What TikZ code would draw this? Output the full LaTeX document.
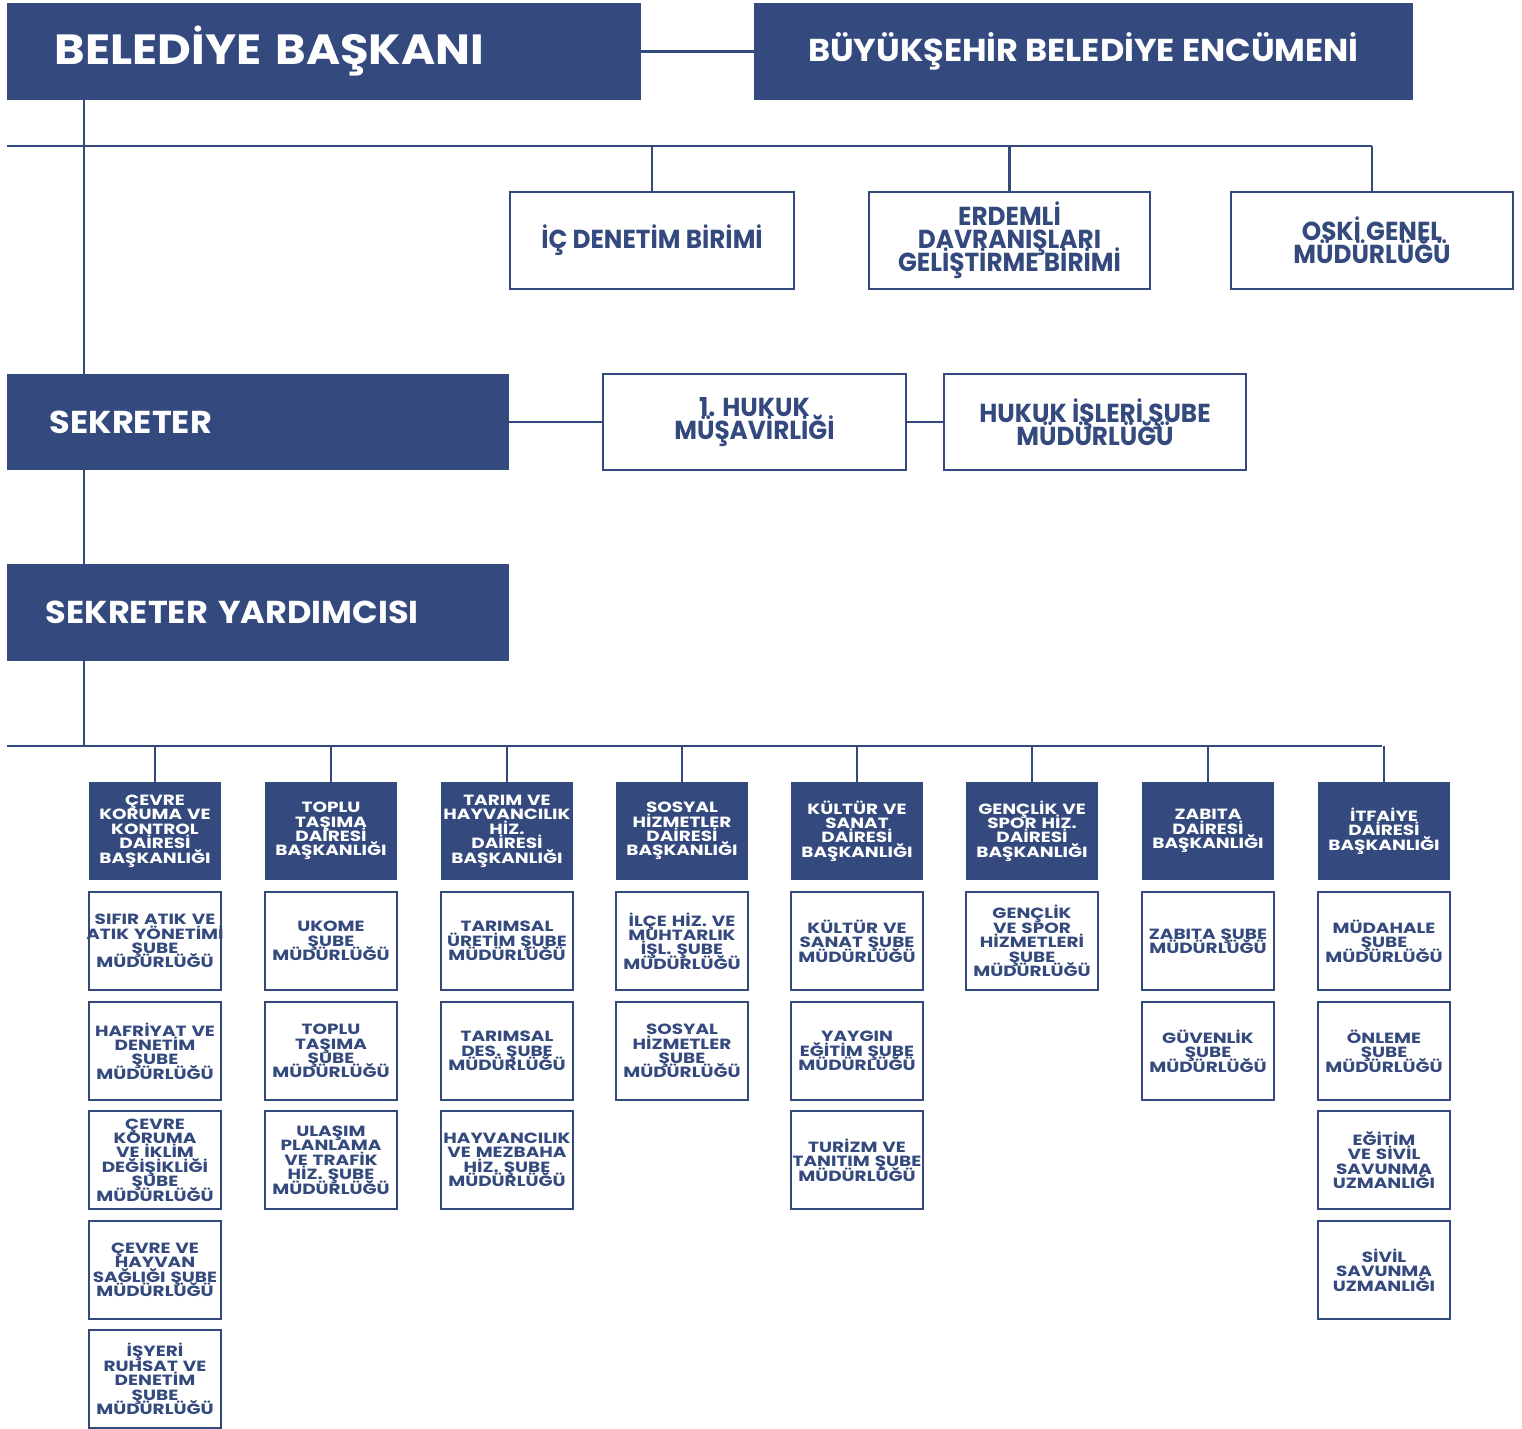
\documentclass[tikz,border=0pt]{standalone}
\usepackage{fontspec}
\setmainfont{Poppins}
\newfontfamily\popw[FakeStretch=1.25]{Poppins}
\newfontfamily\popn[FakeStretch=0.95]{Poppins}
\newfontfamily\popt[FakeStretch=1.1]{Poppins}
\newfontfamily\pops[FakeStretch=1.06]{Poppins}
\definecolor{navy}{RGB}{52,74,126}
\newcommand\tightls{\lineskiplimit=-100pt\lineskip=0pt}
\newcommand\wideline[1]{\makebox[1.32cm][c]{#1}}
\begin{document}
\begin{tikzpicture}[x=0.01cm,y=-0.01cm,
  conn/.style={draw=navy,line width=0.75pt},
  darkbox/.style={fill=navy,draw=none,text=white,inner sep=0pt,outer sep=0pt},
  whitebox/.style={fill=white,draw=navy,line width=0.7pt,text=navy,inner sep=0pt,outer sep=0pt},
  bigtitle/.style={darkbox,minimum width=6.34cm,minimum height=0.97cm,font=\popt\bfseries\fontsize{12}{13}\selectfont},
  midtitle/.style={darkbox,font=\pops\bfseries\fontsize{9}{10}\selectfont},
  toptext/.style={whitebox,minimum height=0.97cm,align=center,font=\popn\bfseries\fontsize{7.4}{6.5}\selectfont\tightls},
  colhead/.style={darkbox,minimum width=1.32cm,text width=1.32cm,minimum height=0.98cm,align=center,font=\popw\bfseries\fontsize{4.2}{4.1}\selectfont\tightls},
  colsub/.style={whitebox,minimum width=1.32cm,text width=1.32cm,minimum height=0.98cm,align=center,font=\popw\bfseries\fontsize{4.2}{4.1}\selectfont\tightls},
]
\useasboundingbox (0,0) rectangle (1522,1428);
% top row
\node[bigtitle,text width=5.38cm,align=left,inner xsep=0.48cm] (bb) at (324,51.5) {BELEDİYE BAŞKANI};
\node[midtitle,minimum width=6.59cm,minimum height=0.97cm] (enc) at (1083.5,51.5) {BÜYÜKŞEHİR BELEDİYE ENCÜMENİ};
\draw[conn] (bb.east) -- (enc.west);
% second row
\node[toptext,minimum width=2.84cm] (ic) at (652,240.5) {İÇ DENETİM BİRİMİ};
\node[toptext,minimum width=2.81cm] (erd) at (1009.5,240.5) {ERDEMLİ\\DAVRANIŞLARI\\GELİŞTİRME BİRİMİ};
\node[toptext,minimum width=2.82cm] (oski) at (1372,240.5) {OSKİ GENEL\\MÜDÜRLÜĞÜ};
% sekreter
\node[midtitle,minimum width=5.02cm,minimum height=0.96cm,text width=4.16cm,align=left,inner xsep=0.43cm] (sek) at (258,422) {SEKRETER};
\node[toptext,minimum width=3.03cm,minimum height=0.96cm] (huk1) at (754.5,422) {1. HUKUK\\MÜŞAVİRLİĞİ};
\node[toptext,minimum width=3.02cm,minimum height=0.96cm] (huk2) at (1095,422) {HUKUK İŞLERİ ŞUBE\\MÜDÜRLÜĞÜ};
\draw[conn] (sek.east) -- (huk1.west);
\draw[conn] (huk1.east) -- (huk2.west);
\node[midtitle,minimum width=5.02cm,minimum height=0.97cm,text width=4.24cm,align=left,inner xsep=0.39cm] (sy) at (258,612.5) {SEKRETER YARDIMCISI};
% spine
\coordinate (spine) at (84,0);
\coordinate (h1L) at (7,146);
\coordinate (h1R) at (1372,146);
\coordinate (h2L) at (7,746);
\coordinate (h2R) at (1382,746);
\draw[conn] (bb.south -| spine) -- (sek.north -| spine);
\draw[conn] (sek.south -| spine) -- (sy.north -| spine);
\draw[conn] (sy.south -| spine) -- (h2L -| spine);
\draw[conn] (h1L) -- (h1R);
\draw[conn] (h2L) -- (h2R);
\foreach \n in {ic,erd,oski} \draw[conn] (\n.north) -- (\n.north |- h1L);
% columns
\def\rA{941}\def\rB{1051}\def\rC{1160}\def\rD{1270}\def\rE{1379}
\node[colhead] (c1) at (155,831) {ÇEVRE\\KORUMA VE\\KONTROL\\DAİRESİ\\BAŞKANLIĞI};
\node[colhead] (c2) at (331,831) {TOPLU\\TAŞIMA\\DAİRESİ\\BAŞKANLIĞI};
\node[colhead] (c3) at (507,831) {TARIM VE\\\wideline{HAYVANCILIK}\\HİZ.\\DAİRESİ\\BAŞKANLIĞI};
\node[colhead] (c4) at (682,831) {SOSYAL\\HİZMETLER\\DAİRESİ\\BAŞKANLIĞI};
\node[colhead] (c5) at (857,831) {KÜLTÜR VE\\SANAT\\DAİRESİ\\BAŞKANLIĞI};
\node[colhead] (c6) at (1032,831) {GENÇLİK VE\\SPOR HİZ.\\DAİRESİ\\BAŞKANLIĞI};
\node[colhead] (c7) at (1208,831) {ZABITA\\DAİRESİ\\BAŞKANLIĞI};
\node[colhead] (c8) at (1384,831) {İTFAİYE\\DAİRESİ\\BAŞKANLIĞI};
\foreach \n in {c1,c2,c3,c4,c5,c6,c7,c8} \draw[conn] (\n.north) -- (\n.north |- h2L);
% column 1
\node[colsub] (c1a) at (155,\rA) {SIFIR ATIK VE\\\wideline{ATIK YÖNETİMİ}\\ŞUBE\\MÜDÜRLÜĞÜ};
\node[colsub] (c1b) at (155,\rB) {HAFRİYAT VE\\DENETİM\\ŞUBE\\MÜDÜRLÜĞÜ};
\node[colsub] (c1c) at (155,\rC) {ÇEVRE\\KORUMA\\VE İKLİM\\DEĞİŞİKLİĞİ\\ŞUBE\\MÜDÜRLÜĞÜ};
\node[colsub] (c1d) at (155,\rD) {ÇEVRE VE\\HAYVAN\\\wideline{SAĞLIĞI ŞUBE}\\MÜDÜRLÜĞÜ};
\node[colsub] (c1e) at (155,\rE) {İŞYERİ\\RUHSAT VE\\DENETİM\\ŞUBE\\MÜDÜRLÜĞÜ};
% column 2
\node[colsub] (c2a) at (331,\rA) {UKOME\\ŞUBE\\MÜDÜRLÜĞÜ};
\node[colsub] (c2b) at (331,\rB) {TOPLU\\TAŞIMA\\ŞUBE\\MÜDÜRLÜĞÜ};
\node[colsub] (c2c) at (331,\rC) {ULAŞIM\\PLANLAMA\\VE TRAFİK\\HİZ. ŞUBE\\MÜDÜRLÜĞÜ};
% column 3
\node[colsub] (c3a) at (507,\rA) {TARIMSAL\\\wideline{ÜRETİM ŞUBE}\\MÜDÜRLÜĞÜ};
\node[colsub] (c3b) at (507,\rB) {TARIMSAL\\DES. ŞUBE\\MÜDÜRLÜĞÜ};
\node[colsub] (c3c) at (507,\rC) {\wideline{HAYVANCILIK}\\VE MEZBAHA\\HİZ. ŞUBE\\MÜDÜRLÜĞÜ};
% column 4
\node[colsub] (c4a) at (682,\rA) {İLÇE HİZ. VE\\MUHTARLIK\\İŞL. ŞUBE\\MÜDÜRLÜĞÜ};
\node[colsub] (c4b) at (682,\rB) {SOSYAL\\HİZMETLER\\ŞUBE\\MÜDÜRLÜĞÜ};
% column 5
\node[colsub] (c5a) at (857,\rA) {KÜLTÜR VE\\SANAT ŞUBE\\MÜDÜRLÜĞÜ};
\node[colsub] (c5b) at (857,\rB) {YAYGIN\\EĞİTİM ŞUBE\\MÜDÜRLÜĞÜ};
\node[colsub] (c5c) at (857,\rC) {TURİZM VE\\\wideline{TANITIM ŞUBE}\\MÜDÜRLÜĞÜ};
% column 6
\node[colsub] (c6a) at (1032,\rA) {GENÇLİK\\VE SPOR\\HİZMETLERİ\\ŞUBE\\MÜDÜRLÜĞÜ};
% column 7
\node[colsub] (c7a) at (1208,\rA) {ZABITA ŞUBE\\MÜDÜRLÜĞÜ};
\node[colsub] (c7b) at (1208,\rB) {GÜVENLİK\\ŞUBE\\MÜDÜRLÜĞÜ};
% column 8
\node[colsub] (c8a) at (1384,\rA) {MÜDAHALE\\ŞUBE\\MÜDÜRLÜĞÜ};
\node[colsub] (c8b) at (1384,\rB) {ÖNLEME\\ŞUBE\\MÜDÜRLÜĞÜ};
\node[colsub] (c8c) at (1384,\rC) {EĞİTİM\\VE SİVİL\\SAVUNMA\\UZMANLIĞI};
\node[colsub] (c8d) at (1384,\rD) {SİVİL\\SAVUNMA\\UZMANLIĞI};
\end{tikzpicture}
\end{document}
